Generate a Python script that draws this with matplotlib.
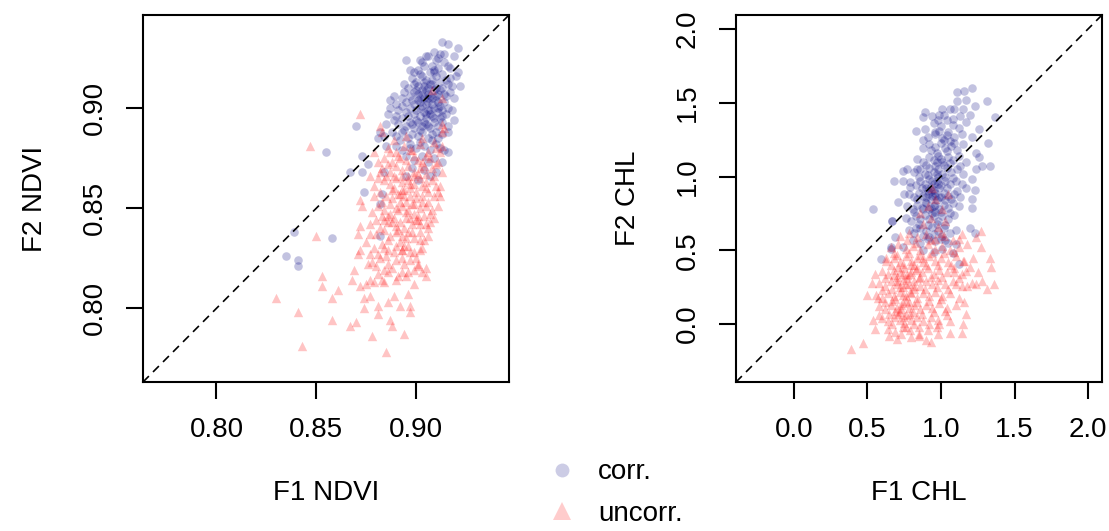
import matplotlib
matplotlib.use("Agg")
import matplotlib.pyplot as plt
from matplotlib.lines import Line2D

plt.rcParams['font.family'] = ['Liberation Sans', 'DejaVu Sans']

# ---- NDVI: (F1, F2) pairs ----
ndvi_corr = [
    (0.913, 0.933), (0.916, 0.932), (0.921, 0.930), (0.895, 0.924), (0.902, 0.924),
    (0.906, 0.926), (0.909, 0.928), (0.914, 0.927), (0.919, 0.926), (0.921, 0.918),
    (0.922, 0.911), (0.920, 0.916), (0.899, 0.918), (0.894, 0.912), (0.894, 0.908),
    (0.889, 0.906), (0.887, 0.904), (0.887, 0.900), (0.890, 0.896), (0.885, 0.892),
    (0.870, 0.891), (0.882, 0.888), (0.881, 0.885), (0.885, 0.881), (0.919, 0.894),
    (0.916, 0.888), (0.914, 0.879), (0.916, 0.878), (0.913, 0.873), (0.855, 0.878),
    (0.873, 0.876), (0.876, 0.872), (0.867, 0.868), (0.874, 0.858), (0.873, 0.868),
    (0.884, 0.868), (0.883, 0.857), (0.882, 0.852), (0.839, 0.838), (0.858, 0.835),
    (0.835, 0.826), (0.841, 0.824), (0.841, 0.821), (0.882, 0.836), (0.907, 0.866),
    (0.905, 0.926), (0.910, 0.924), (0.912, 0.927), (0.908, 0.921),
    (0.901, 0.919), (0.904, 0.921), (0.907, 0.918), (0.911, 0.920), (0.913, 0.917),
    (0.916, 0.921), (0.917, 0.915),
    (0.898, 0.915), (0.900, 0.913), (0.903, 0.916), (0.905, 0.914), (0.908, 0.912),
    (0.910, 0.916), (0.912, 0.913), (0.915, 0.914), (0.918, 0.911), (0.906, 0.910),
    (0.896, 0.910), (0.899, 0.908), (0.901, 0.911), (0.903, 0.907), (0.905, 0.909),
    (0.907, 0.906), (0.909, 0.909), (0.911, 0.907), (0.913, 0.910), (0.915, 0.906),
    (0.917, 0.908), (0.902, 0.905),
    (0.893, 0.905), (0.895, 0.903), (0.897, 0.906), (0.899, 0.902), (0.901, 0.904),
    (0.903, 0.901), (0.904, 0.905), (0.906, 0.903), (0.908, 0.902), (0.910, 0.904),
    (0.912, 0.901), (0.914, 0.903), (0.916, 0.900), (0.907, 0.899),
    (0.891, 0.899), (0.893, 0.901), (0.895, 0.898), (0.897, 0.900), (0.899, 0.897),
    (0.900, 0.899), (0.902, 0.896), (0.904, 0.898), (0.905, 0.895), (0.907, 0.897),
    (0.909, 0.895), (0.911, 0.898), (0.913, 0.896), (0.915, 0.897), (0.918, 0.899),
    (0.889, 0.894), (0.891, 0.892), (0.893, 0.895), (0.895, 0.891), (0.897, 0.893),
    (0.899, 0.890), (0.901, 0.893), (0.903, 0.891), (0.905, 0.892), (0.907, 0.890),
    (0.909, 0.893), (0.911, 0.891), (0.913, 0.893), (0.916, 0.891),
    (0.888, 0.888), (0.890, 0.886), (0.893, 0.888), (0.896, 0.885), (0.898, 0.887),
    (0.901, 0.886), (0.903, 0.888), (0.906, 0.885), (0.908, 0.887), (0.911, 0.885),
    (0.913, 0.887),
    (0.890, 0.881), (0.893, 0.879), (0.897, 0.882), (0.900, 0.880), (0.904, 0.881),
    (0.907, 0.879), (0.910, 0.882), (0.912, 0.880),
    (0.895, 0.876), (0.899, 0.874), (0.903, 0.876), (0.906, 0.873), (0.909, 0.875),
    (0.898, 0.870), (0.904, 0.869), (0.910, 0.868), (0.895, 0.866), (0.901, 0.864),
    (0.904, 0.911), (0.906, 0.907), (0.908, 0.905), (0.910, 0.910), (0.905, 0.902),
    (0.909, 0.900), (0.903, 0.909), (0.911, 0.903), (0.907, 0.912), (0.902, 0.903),
    (0.906, 0.899), (0.910, 0.906),
    (0.897, 0.919), (0.902, 0.917), (0.909, 0.919), (0.914, 0.923), (0.911, 0.925),
    (0.900, 0.909), (0.904, 0.913), (0.908, 0.914), (0.912, 0.909), (0.916, 0.912),
    (0.898, 0.904), (0.902, 0.900), (0.906, 0.905), (0.911, 0.900), (0.914, 0.907),
    (0.896, 0.896), (0.900, 0.894), (0.904, 0.893), (0.908, 0.896), (0.912, 0.895),
    (0.894, 0.889), (0.898, 0.892), (0.902, 0.889), (0.906, 0.891), (0.910, 0.888),
    (0.892, 0.884), (0.897, 0.880), (0.902, 0.883), (0.908, 0.884), (0.886, 0.897),
    (0.884, 0.886), (0.919, 0.905), (0.917, 0.920), (0.903, 0.923), (0.899, 0.912),
    (0.890, 0.902), (0.905, 0.897), (0.909, 0.918), (0.913, 0.899), (0.901, 0.907),
]

ndvi_uncorr = [
    (0.850, 0.836), (0.853, 0.816), (0.853, 0.811), (0.830, 0.805), (0.841, 0.798),
    (0.843, 0.781), (0.858, 0.805), (0.861, 0.809), (0.858, 0.794), (0.867, 0.791),
    (0.870, 0.793), (0.878, 0.786), (0.885, 0.778), (0.894, 0.787), (0.887, 0.794),
    (0.888, 0.791), (0.874, 0.800), (0.881, 0.797), (0.881, 0.801), (0.886, 0.803),
    (0.892, 0.801), (0.897, 0.801), (0.897, 0.798), (0.889, 0.806), (0.896, 0.807),
    (0.899, 0.812), (0.874, 0.805), (0.877, 0.806), (0.872, 0.811), (0.875, 0.812),
    (0.877, 0.814), (0.879, 0.813), (0.884, 0.813), (0.890, 0.814), (0.895, 0.816),
    (0.903, 0.818), (0.905, 0.816), (0.905, 0.820), (0.901, 0.822), (0.868, 0.814),
    (0.869, 0.819), (0.871, 0.827), (0.872, 0.829), (0.876, 0.822), (0.877, 0.827),
    (0.880, 0.821), (0.883, 0.814), (0.871, 0.837), (0.872, 0.841), (0.875, 0.833),
    (0.877, 0.842), (0.877, 0.837), (0.872, 0.854), (0.873, 0.851), (0.877, 0.866),
    (0.879, 0.861), (0.881, 0.865), (0.913, 0.868), (0.912, 0.861), (0.912, 0.856),
    (0.909, 0.845), (0.905, 0.842), (0.904, 0.834), (0.902, 0.829),
    (0.872, 0.897), (0.847, 0.881), (0.882, 0.891), (0.883, 0.888), (0.879, 0.878),
    (0.881, 0.873), (0.882, 0.868), (0.913, 0.888), (0.913, 0.881), (0.913, 0.892),
    (0.908, 0.909), (0.913, 0.905), (0.914, 0.890), (0.912, 0.878),
    (0.886, 0.880), (0.890, 0.878), (0.894, 0.881), (0.898, 0.879), (0.902, 0.882),
    (0.906, 0.878), (0.910, 0.880),
    (0.884, 0.875), (0.888, 0.873), (0.891, 0.876), (0.895, 0.874), (0.899, 0.876),
    (0.903, 0.873), (0.907, 0.875), (0.911, 0.873),
    (0.883, 0.870), (0.887, 0.868), (0.890, 0.871), (0.893, 0.869), (0.896, 0.871),
    (0.899, 0.868), (0.902, 0.870), (0.905, 0.867), (0.908, 0.870), (0.896, 0.866),
    (0.884, 0.864), (0.887, 0.862), (0.890, 0.865), (0.893, 0.863), (0.896, 0.864),
    (0.899, 0.862), (0.902, 0.865), (0.905, 0.863), (0.908, 0.864), (0.910, 0.861),
    (0.882, 0.858), (0.885, 0.856), (0.888, 0.859), (0.891, 0.857), (0.894, 0.859),
    (0.897, 0.856), (0.900, 0.858), (0.903, 0.856), (0.906, 0.858), (0.909, 0.856),
    (0.892, 0.853),
    (0.881, 0.851), (0.884, 0.849), (0.887, 0.852), (0.890, 0.850), (0.893, 0.851),
    (0.896, 0.849), (0.899, 0.852), (0.902, 0.850), (0.905, 0.851), (0.908, 0.849),
    (0.880, 0.844), (0.883, 0.846), (0.886, 0.843), (0.889, 0.845), (0.892, 0.843),
    (0.895, 0.845), (0.898, 0.842), (0.901, 0.844), (0.904, 0.846), (0.907, 0.843),
    (0.880, 0.837), (0.884, 0.839), (0.887, 0.836), (0.890, 0.838), (0.893, 0.836),
    (0.896, 0.838), (0.899, 0.835), (0.902, 0.838), (0.906, 0.836),
    (0.879, 0.830), (0.883, 0.832), (0.886, 0.829), (0.890, 0.831), (0.893, 0.829),
    (0.896, 0.831), (0.899, 0.828), (0.903, 0.830),
    (0.878, 0.823), (0.882, 0.825), (0.886, 0.822), (0.890, 0.824), (0.894, 0.822),
    (0.897, 0.824), (0.901, 0.821),
    (0.881, 0.817), (0.886, 0.818), (0.891, 0.816), (0.896, 0.818),
    (0.893, 0.829), (0.894, 0.831), (0.892, 0.857), (0.893, 0.859), (0.900, 0.844),
    (0.901, 0.846), (0.884, 0.844), (0.886, 0.846), (0.897, 0.862), (0.899, 0.866),
    (0.895, 0.848), (0.898, 0.852), (0.891, 0.839), (0.895, 0.835), (0.903, 0.861),
    (0.889, 0.866),
    (0.885, 0.866), (0.889, 0.860), (0.893, 0.866), (0.897, 0.860), (0.901, 0.867),
    (0.905, 0.860), (0.909, 0.866), (0.883, 0.853), (0.887, 0.847), (0.891, 0.849),
    (0.895, 0.853), (0.899, 0.847), (0.903, 0.853), (0.907, 0.847), (0.911, 0.851),
    (0.882, 0.840), (0.886, 0.834), (0.890, 0.841), (0.894, 0.840), (0.898, 0.838),
    (0.902, 0.834), (0.906, 0.840), (0.881, 0.827), (0.885, 0.826), (0.889, 0.828),
    (0.893, 0.825), (0.897, 0.828), (0.900, 0.825), (0.884, 0.819), (0.888, 0.820),
    (0.893, 0.818), (0.899, 0.819), (0.887, 0.878), (0.892, 0.875), (0.897, 0.879),
    (0.901, 0.874), (0.905, 0.876), (0.909, 0.883), (0.889, 0.884), (0.895, 0.886),
    (0.903, 0.885), (0.894, 0.856), (0.897, 0.845), (0.892, 0.833), (0.900, 0.855),
    (0.888, 0.855), (0.904, 0.871), (0.886, 0.872), (0.878, 0.848), (0.879, 0.856),
    (0.910, 0.872), (0.911, 0.858), (0.906, 0.853), (0.902, 0.842), (0.884, 0.830),
    (0.888, 0.843),
]

# ---- CHL: (F1, F2) pairs ----
chl_corr = [
    (1.21, 1.60), (1.16, 1.58), (1.11, 1.57), (1.11, 1.51), (1.17, 1.52),
    (1.31, 1.51), (1.23, 1.48), (1.37, 1.40), (0.88, 1.40), (0.94, 1.41),
    (0.89, 1.44), (1.01, 1.46), (1.06, 1.46), (1.09, 1.46), (1.15, 1.46),
    (1.20, 1.42), (1.17, 1.37), (0.99, 1.42), (0.83, 1.31), (0.89, 1.32),
    (0.88, 1.25), (0.96, 1.30), (1.26, 1.32), (1.21, 1.27), (1.32, 1.23),
    (1.24, 1.16), (1.26, 1.13), (1.33, 1.07), (1.24, 1.05), (1.28, 1.07),
    (1.21, 0.98), (1.23, 0.91), (1.21, 0.85), (1.21, 0.79), (1.17, 0.92),
    (0.74, 1.04), (0.68, 0.97), (0.77, 1.05), (0.84, 1.05), (0.74, 0.97),
    (0.71, 0.83), (0.75, 0.88), (0.54, 0.78), (0.67, 0.70), (0.79, 0.93),
    (0.67, 0.70), (0.59, 0.44), (0.69, 0.59), (0.66, 0.52), (0.74, 0.52),
    (1.20, 0.65), (1.23, 0.62), (1.10, 0.54), (1.08, 0.48), (1.12, 0.41),
    (1.03, 0.57), (0.83, 0.65), (0.92, 0.59), (0.66, 0.51),
    (0.95, 1.36), (1.00, 1.34), (1.04, 1.38), (1.08, 1.35), (1.12, 1.33),
    (0.91, 1.27), (0.96, 1.29), (1.01, 1.26), (1.05, 1.30), (1.09, 1.27),
    (1.14, 1.29), (0.99, 1.31),
    (0.88, 1.19), (0.92, 1.22), (0.96, 1.20), (1.00, 1.23), (1.03, 1.19),
    (1.07, 1.21), (1.11, 1.18), (1.15, 1.22), (1.02, 1.25),
    (0.84, 1.12), (0.88, 1.10), (0.92, 1.13), (0.95, 1.11), (0.98, 1.14),
    (1.01, 1.10), (1.05, 1.13), (1.08, 1.11), (1.12, 1.14), (1.17, 1.10),
    (0.82, 1.03), (0.86, 1.05), (0.89, 1.02), (0.92, 1.06), (0.95, 1.03),
    (0.98, 1.05), (1.01, 1.02), (1.04, 1.06), (1.07, 1.03), (1.11, 1.05),
    (1.15, 1.02),
    (0.79, 0.96), (0.83, 0.94), (0.86, 0.97), (0.89, 0.95), (0.92, 0.98),
    (0.95, 0.95), (0.97, 0.97), (1.00, 0.94), (1.03, 0.97), (1.06, 0.95),
    (1.10, 0.97), (1.14, 0.95),
    (0.78, 0.88), (0.82, 0.86), (0.85, 0.89), (0.88, 0.87), (0.91, 0.90),
    (0.94, 0.87), (0.96, 0.89), (0.99, 0.86), (1.02, 0.89), (1.05, 0.87),
    (1.09, 0.88), (1.13, 0.86),
    (0.77, 0.80), (0.81, 0.78), (0.84, 0.81), (0.87, 0.79), (0.90, 0.82),
    (0.93, 0.79), (0.96, 0.81), (0.99, 0.78), (1.02, 0.81), (1.05, 0.79),
    (1.08, 0.82), (1.12, 0.80),
    (0.76, 0.72), (0.80, 0.70), (0.83, 0.73), (0.86, 0.71), (0.89, 0.74),
    (0.92, 0.71), (0.95, 0.73), (0.98, 0.70), (1.01, 0.73), (1.05, 0.71),
    (1.09, 0.74),
    (0.78, 0.64), (0.82, 0.62), (0.86, 0.65), (0.90, 0.63), (0.94, 0.66),
    (0.98, 0.63), (1.02, 0.65), (1.06, 0.62), (1.10, 0.64),
    (0.81, 0.57), (0.86, 0.55), (0.91, 0.58), (0.96, 0.56), (1.00, 0.58),
    (1.05, 0.55), (0.88, 0.50), (0.95, 0.49), (1.01, 0.51),
    (0.90, 0.92), (0.93, 0.85), (0.95, 0.91), (0.97, 0.84), (0.92, 0.78),
    (0.99, 0.92), (0.94, 0.97), (0.89, 0.83), (0.96, 0.76), (1.00, 0.86),
    (0.91, 0.88), (0.98, 1.00), (1.04, 1.28), (1.06, 1.24), (0.93, 0.93),
    (0.95, 0.80), (1.02, 1.08), (0.97, 1.10),
    (0.93, 1.18), (0.97, 1.16), (1.04, 1.17), (1.09, 1.23), (0.90, 1.08),
    (0.96, 1.07), (1.00, 1.12), (1.06, 1.09), (1.13, 1.07), (0.85, 1.00),
    (0.91, 1.01), (0.97, 1.02), (1.03, 1.00), (1.08, 0.99), (0.87, 0.92),
    (0.93, 0.90), (0.98, 0.95), (1.04, 0.92), (1.11, 0.90), (0.84, 0.85),
    (0.90, 0.86), (0.96, 0.87), (1.03, 0.84), (1.07, 0.85), (0.82, 0.76),
    (0.88, 0.78), (0.94, 0.75), (1.00, 0.76), (1.06, 0.75), (0.85, 0.68),
    (0.91, 0.67), (0.97, 0.68), (1.03, 0.67), (0.88, 0.60), (0.95, 0.61),
    (1.01, 0.60), (1.08, 1.39), (1.02, 1.42), (0.98, 1.38), (1.13, 1.41),
]

chl_uncorr = [
    (0.39, -0.17), (0.47, -0.13), (0.54, 0.03), (0.50, 0.20), (0.53, 0.28),
    (0.55, 0.34), (0.55, -0.03), (0.65, -0.08), (0.85, -0.07), (0.93, -0.12),
    (0.98, -0.07), (1.06, -0.06), (1.14, -0.06), (1.15, 0.00), (1.17, 0.07),
    (1.16, 0.15), (1.24, 0.27), (1.31, 0.24), (1.36, 0.27), (1.34, 0.39),
    (1.33, 0.45), (1.27, 0.52), (1.27, 0.63), (1.24, 0.59), (1.20, 0.39),
    (1.17, 0.36), (1.09, 0.35), (1.10, 0.27), (1.18, 0.26), (1.03, 0.09),
    (0.99, 0.00), (1.06, 0.02), (0.76, -0.02), (0.58, 0.06), (0.57, 0.18),
    (0.63, 0.45), (0.68, 0.48), (1.15, 0.43),
    (0.72, 0.60), (0.78, 0.62), (0.84, 0.59), (0.90, 0.61), (0.96, 0.58),
    (1.02, 0.60), (1.08, 0.57), (1.14, 0.61),
    (0.66, 0.52), (0.71, 0.54), (0.76, 0.51), (0.81, 0.53), (0.86, 0.50),
    (0.91, 0.54), (0.96, 0.51), (1.01, 0.53), (1.06, 0.50), (1.12, 0.52),
    (1.18, 0.54),
    (0.63, 0.43), (0.68, 0.45), (0.72, 0.42), (0.76, 0.46), (0.80, 0.43),
    (0.84, 0.45), (0.88, 0.42), (0.92, 0.46), (0.96, 0.43), (1.00, 0.45),
    (1.05, 0.42), (1.10, 0.46), (1.16, 0.43), (1.22, 0.45),
    (0.60, 0.36), (0.64, 0.34), (0.68, 0.37), (0.72, 0.35), (0.75, 0.38),
    (0.79, 0.34), (0.83, 0.37), (0.87, 0.35), (0.91, 0.38), (0.95, 0.34),
    (0.99, 0.37), (1.04, 0.35), (1.09, 0.38), (1.14, 0.34),
    (0.58, 0.28), (0.62, 0.26), (0.66, 0.29), (0.70, 0.27), (0.74, 0.30),
    (0.78, 0.27), (0.82, 0.29), (0.86, 0.26), (0.90, 0.29), (0.94, 0.27),
    (0.98, 0.30), (1.03, 0.27), (1.08, 0.29), (1.14, 0.26), (1.21, 0.28),
    (0.56, 0.20), (0.60, 0.18), (0.64, 0.21), (0.68, 0.19), (0.72, 0.22),
    (0.76, 0.19), (0.80, 0.21), (0.84, 0.18), (0.88, 0.21), (0.92, 0.19),
    (0.96, 0.22), (1.01, 0.19), (1.06, 0.21), (1.12, 0.18),
    (0.58, 0.12), (0.62, 0.10), (0.66, 0.13), (0.70, 0.11), (0.74, 0.14),
    (0.78, 0.11), (0.82, 0.13), (0.86, 0.10), (0.90, 0.13), (0.94, 0.11),
    (0.99, 0.14), (1.04, 0.11), (1.10, 0.13),
    (0.60, 0.04), (0.64, 0.02), (0.68, 0.05), (0.72, 0.03), (0.76, 0.06),
    (0.80, 0.03), (0.84, 0.05), (0.88, 0.02), (0.93, 0.05), (0.98, 0.03),
    (1.04, 0.06),
    (0.64, -0.03), (0.69, -0.05), (0.74, -0.02), (0.79, -0.04), (0.85, -0.02),
    (0.91, -0.04), (0.97, -0.02), (0.70, -0.10), (0.80, -0.09), (0.90, -0.11),
    (0.88, 0.68), (0.93, 0.72), (0.98, 0.66), (1.03, 0.70), (0.91, 0.80),
    (0.96, 0.85), (1.01, 0.78), (0.94, 0.92), (1.05, 0.88), (0.86, 0.75),
    (0.70, 0.32), (0.74, 0.34), (0.77, 0.31), (0.72, 0.25), (0.76, 0.27),
    (0.69, 0.09), (0.71, 0.07), (0.73, 0.10), (0.80, 0.40), (0.84, 0.38),
    (0.78, 0.15), (0.82, 0.24), (0.67, 0.16), (0.75, 0.05), (0.86, 0.32),
    (0.88, 0.45), (0.74, 0.20), (0.81, 0.08),
    (0.70, 0.47), (0.78, 0.48), (0.86, 0.47), (0.94, 0.48), (1.02, 0.48),
    (1.09, 0.49), (0.66, 0.40), (0.74, 0.41), (0.82, 0.40), (0.90, 0.40),
    (0.98, 0.40), (1.07, 0.40), (0.62, 0.31), (0.70, 0.29), (0.77, 0.33),
    (0.85, 0.31), (0.93, 0.32), (1.01, 0.32), (1.12, 0.31), (0.60, 0.23),
    (0.67, 0.24), (0.74, 0.25), (0.82, 0.26), (0.89, 0.24), (0.97, 0.25),
    (1.05, 0.24), (0.62, 0.15), (0.69, 0.17), (0.76, 0.16), (0.84, 0.15),
    (0.92, 0.16), (1.00, 0.17), (0.65, 0.07), (0.72, 0.08), (0.79, 0.07),
    (0.87, 0.07), (0.95, 0.08), (0.67, 0.00), (0.75, 0.01), (0.82, 0.00),
    (0.92, 0.00), (0.73, -0.07), (0.85, -0.08), (0.83, 0.55), (0.93, 0.57),
    (1.00, 0.62), (0.77, 0.57), (1.12, 0.58), (1.25, 0.35), (1.28, 0.29),
    (0.71, 0.39), (0.79, 0.22), (0.73, 0.13), (0.68, 0.33), (0.80, 0.35),
]

ndvi_lim = (0.7632, 0.9466)
chl_lim = (-0.392, 2.094)
ndvi_ticks = [0.80, 0.85, 0.90]
chl_ticks = [0.0, 0.5, 1.0, 1.5, 2.0]

corr_col = (0, 0, 0.5, 0.24)
uncorr_col = (1, 0, 0, 0.23)

fig = plt.figure(figsize=(11.09, 5.31), dpi=100)
ax1 = fig.add_axes([143 / 1109, 1 - 382 / 531, 366 / 1109, 367 / 531])
ax2 = fig.add_axes([736 / 1109, 1 - 382 / 531, 366 / 1109, 367 / 531])


def panel(ax, corr, uncorr, lim, ticks, fmt, xlab, ylab):
    cx, cy = zip(*corr)
    ux, uy = zip(*uncorr)
    ax.scatter(cx, cy, s=38, marker='o', color=corr_col, linewidths=0)
    ax.scatter(ux, uy, s=46, marker='^', color=uncorr_col, linewidths=0)
    ax.axline((0, 0), slope=1, color='black', lw=1.2, ls=(0, (5, 3.5)))
    ax.set_xlim(lim)
    ax.set_ylim(lim)
    ax.set_xticks(ticks)
    ax.set_yticks(ticks)
    ax.set_xticklabels([fmt % t for t in ticks], fontsize=20)
    ax.set_yticklabels([fmt % t for t in ticks], fontsize=20, rotation=90, va='center')
    ax.tick_params(direction='out', length=12.5, width=1.5, pad=13)
    for s in ax.spines.values():
        s.set_linewidth(1.5)
    ax.set_xlabel(xlab, fontsize=20, labelpad=26)
    ax.set_ylabel(ylab, fontsize=20, labelpad=24)


panel(ax1, ndvi_corr, ndvi_uncorr, ndvi_lim, ndvi_ticks, '%.2f', 'F1 NDVI', 'F2 NDVI')
panel(ax2, chl_corr, chl_uncorr, chl_lim, chl_ticks, '%.1f', 'F1 CHL', 'F2 CHL')

handles = [
    Line2D([], [], ls='none', marker='o', ms=10, mew=0, color=(0, 0, 0.5, 0.2)),
    Line2D([], [], ls='none', marker='^', ms=13, mew=0, color=(1, 0, 0, 0.2)),
]
fig.legend(handles, ['corr.', 'uncorr.'], loc='center left',
           bbox_to_anchor=(548 / 1109, 1 - 493 / 531), frameon=False,
           fontsize=20, handlelength=1.0, handletextpad=0.8,
           labelspacing=0.55, borderpad=0, borderaxespad=0)

fig.savefig('out.png', dpi=100)
